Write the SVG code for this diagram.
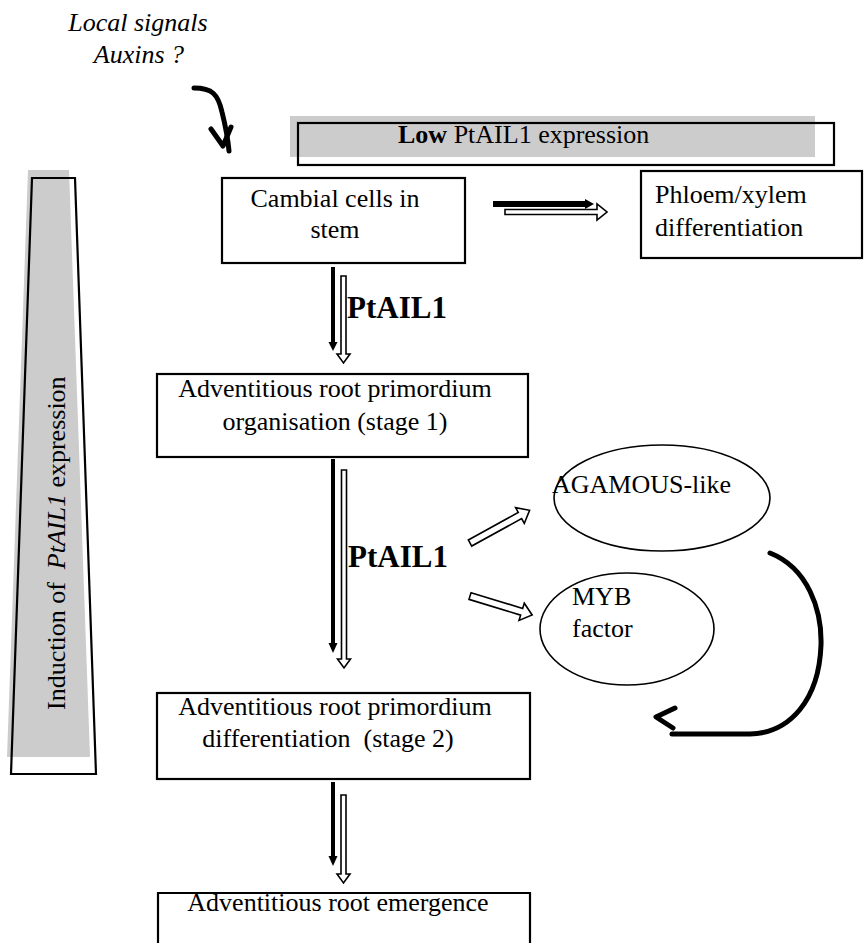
<svg xmlns="http://www.w3.org/2000/svg" width="864" height="943" viewBox="0 0 864 943">
<style>
text{font-family:"Liberation Serif","Times New Roman",serif;font-size:26px;fill:#000}
.it{font-style:italic}
.b{font-weight:bold}
.box{fill:none;stroke:#000;stroke-width:2.2}
.ell{fill:none;stroke:#000;stroke-width:1.6}
.gray{fill:#cccccc;stroke:none}
.hol{fill:#fff;stroke:#000;stroke-width:1.6;stroke-linejoin:miter}
.blk{stroke:#000;stroke-width:4;fill:none}
.hand{fill:none;stroke:#000;stroke-width:5;stroke-linecap:round;stroke-linejoin:round}
</style>
<rect width="864" height="943" fill="#fff"/>

<g id="signals">
<text class="it" x="138" y="31" text-anchor="middle">Local signals</text>
<text class="it" x="139" y="63" text-anchor="middle">Auxins ?</text>
</g>

<g id="low-expression">
<rect class="gray" x="290" y="116" width="525" height="41"/>
<rect class="box" x="298" y="123" width="536" height="42"/>
<text x="398" y="143"><tspan class="b">Low</tspan> PtAIL1 expression</text>
</g>

<g id="induction-bar">
<polygon class="gray" points="28,170 69,170 90,757 7,757"/>
<polygon class="box" points="32,178 75,178 96,774 11,774"/>
<text transform="translate(65,710) rotate(-90)">Induction of&#160; <tspan class="it">PtAIL1</tspan> expression</text>
</g>

<g id="cambial">
<rect class="box" x="222" y="178" width="243" height="85"/>
<text x="335" y="207" text-anchor="middle">Cambial cells in</text>
<text x="335" y="238" text-anchor="middle">stem</text>
</g>

<g id="phloem">
<rect class="box" x="641" y="171" width="221" height="87"/>
<text x="655" y="203">Phloem/xylem</text>
<text x="655" y="236">differentiation</text>
</g>

<g id="stage1">
<rect class="box" x="157" y="374" width="371" height="83"/>
<text x="335" y="397" text-anchor="middle">Adventitious root primordium</text>
<text x="335" y="430" text-anchor="middle">organisation (stage 1)</text>
</g>

<g id="agamous">
<ellipse class="ell" cx="662" cy="498" rx="108" ry="53"/>
<text x="552" y="493">AGAMOUS-like</text>
</g>

<g id="myb">
<ellipse class="ell" cx="627" cy="629" rx="87" ry="56"/>
<text x="572" y="605">MYB</text>
<text x="572" y="637">factor</text>
</g>

<g id="stage2">
<rect class="box" x="157" y="693" width="373" height="86"/>
<text x="335" y="715" text-anchor="middle">Adventitious root primordium</text>
<text x="328" y="747" text-anchor="middle">differentiation&#160; (stage 2)</text>
</g>

<g id="emergence">
<path class="box" d="M158,945 V893 H530 V945"/>
<text x="338" y="911" text-anchor="middle">Adventitious root emergence</text>
</g>

<g id="connectors">
<path class="hand" d="M194,88 C212,88 218,94 222,112 C226,128 228,140 229,151"/>
<path class="hand" d="M211,129 L223,146 L231,127"/>
<line class="blk" x1="493" y1="204" x2="587" y2="204" style="stroke-width:6"/>
<polygon points="585,199 585,209 594,204" fill="#000"/>
<polygon class="hol" points="505,209.5 597,209.5 597,204 607,212 597,220 597,214.5 505,214.5"/>
<line class="blk" x1="333" y1="267" x2="333" y2="344"/>
<polygon points="328.5,342 337.5,342 333,351" fill="#000"/>
<polygon class="hol" points="341,276 346,276 346,354 350,354 343.5,363 337,354 341,354"/>
<text class="b" x="347" y="318" style="font-size:31px">PtAIL1</text>
<line class="blk" x1="333" y1="459" x2="333" y2="645"/>
<polygon points="328.5,643 337.5,643 333,653" fill="#000"/>
<polygon class="hol" points="341.5,470 346.5,470 346.5,659 350.5,659 344,668 337.5,659 341.5,659"/>
<text class="b" x="348" y="567" style="font-size:31px">PtAIL1</text>
<polygon class="hol" transform="translate(470,543) rotate(-28.8)" points="0,-3.5 57,-3.5 57,-9 68,0 57,9 57,3.5 0,3.5"/>
<polygon class="hol" transform="translate(470,596) rotate(17)" points="0,-3.5 54,-3.5 54,-9 65,0 54,9 54,3.5 0,3.5"/>
<path class="hand" d="M770,553 C808,568 822,610 821,645 C819,700 790,733 750,734 L672,734"/>
<path class="hand" d="M675,708 L656,717 L673,728"/>
<line class="blk" x1="333" y1="782" x2="333" y2="858"/>
<polygon points="328.5,856 337.5,856 333,866" fill="#000"/>
<polygon class="hol" points="341,795 346,795 346,874 350,874 343.5,883 337,874 341,874"/>
</g>
</svg>
